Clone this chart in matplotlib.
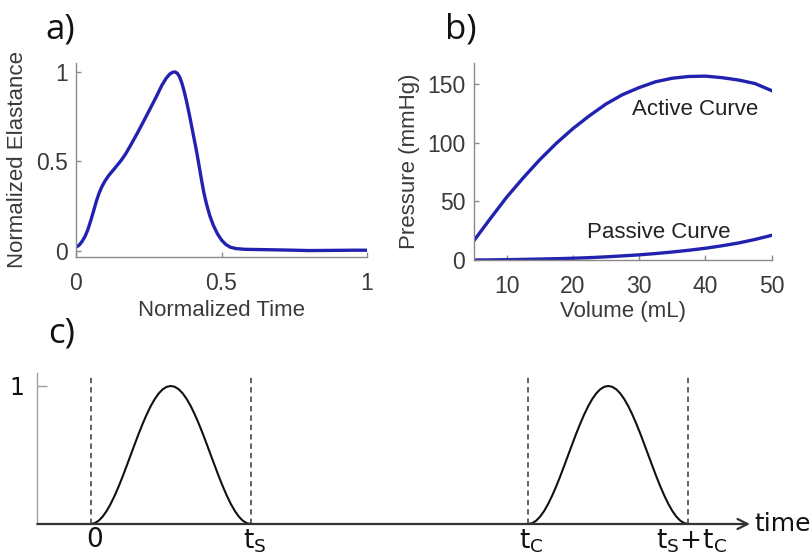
import matplotlib
matplotlib.use('Agg')
import matplotlib.pyplot as plt

# ---------------- data ----------------
# panel a: normalized elastance curve
time_a = [0.000, 0.010, 0.020, 0.031, 0.040, 0.050, 0.060, 0.070, 0.080, 0.090,
          0.100, 0.110, 0.120, 0.130, 0.140, 0.155, 0.170, 0.186, 0.210, 0.231,
          0.255, 0.277, 0.295, 0.310, 0.322, 0.332, 0.340, 0.348, 0.356, 0.364,
          0.372, 0.380, 0.389, 0.397, 0.406, 0.415, 0.424, 0.432, 0.440, 0.449,
          0.460, 0.472, 0.486, 0.500, 0.515, 0.530, 0.550, 0.580, 0.650, 0.720,
          0.800, 0.880, 0.950, 1.000]
elast_a = [0.020, 0.030, 0.050, 0.080, 0.115, 0.165, 0.220, 0.277, 0.325, 0.362,
           0.391, 0.415, 0.436, 0.455, 0.475, 0.505, 0.540, 0.585, 0.655, 0.720,
           0.795, 0.865, 0.925, 0.965, 0.988, 0.998, 1.000, 0.993, 0.972, 0.937,
           0.890, 0.835, 0.765, 0.700, 0.625, 0.550, 0.465, 0.390, 0.320, 0.258,
           0.195, 0.142, 0.095, 0.060, 0.035, 0.020, 0.012, 0.008, 0.006, 0.004,
           0.001, 0.002, 0.003, 0.003]

# panel b: pressure-volume curves
vol_active = [5, 7.5, 10, 12.5, 15, 17.5, 20, 22.5, 25, 27.5, 30, 32.5, 35,
              37.5, 40, 42.5, 45, 47.5, 50]
p_active = [16, 35, 53.5, 70, 85.5, 99.5, 112, 123, 133, 141, 147, 152, 155,
            156.5, 156.8, 155.5, 153.5, 150.5, 144.5]
vol_passive = [5, 7.5, 10, 12.5, 15, 17.5, 20, 22.5, 25, 27.5, 30, 32.5, 35,
               37.5, 40, 42.5, 45, 47.5, 50]
p_passive = [0, 0.1, 0.3, 0.5, 0.8, 1.1, 1.5, 2.0, 2.7, 3.5, 4.4, 5.5, 6.8,
             8.3, 10.0, 12.1, 14.5, 17.5, 21.0]

# panel c: activation pulse (phase within systole, normalized value)
pulse_phase = [0.000, 0.025, 0.050, 0.075, 0.100, 0.125, 0.150, 0.175, 0.200, 0.225,
               0.250, 0.275, 0.300, 0.325, 0.350, 0.375, 0.400, 0.425, 0.450, 0.475,
               0.500, 0.525, 0.550, 0.575, 0.600, 0.625, 0.650, 0.675, 0.700, 0.725,
               0.750, 0.775, 0.800, 0.825, 0.850, 0.875, 0.900, 0.925, 0.950, 0.975,
               1.000]
pulse_value = [0.000, 0.006, 0.024, 0.054, 0.095, 0.146, 0.206, 0.273, 0.345, 0.422,
               0.500, 0.578, 0.655, 0.727, 0.794, 0.854, 0.905, 0.946, 0.976, 0.994,
               1.000, 0.994, 0.976, 0.946, 0.905, 0.854, 0.794, 0.727, 0.655, 0.578,
               0.500, 0.422, 0.345, 0.273, 0.206, 0.146, 0.095, 0.054, 0.024, 0.006,
               0.000]
t_s = 0.366
t_c = 1.0
c_event_labels = ['0', r'$\mathregular{t_S}$', r'$\mathregular{t_C}$', r'$\mathregular{t_S\!+\!t_C}$']

# ---------------- style ----------------
W, H = 810, 557
BLUE = '#2222b0'
AXC = '#8a8a8a'
TXT = '#3a3a3a'
SANS = ['Liberation Sans', 'DejaVu Sans']

fig = plt.figure(figsize=(8.1, 5.57), dpi=100)


def box(l, r, t, b):
    return [l / W, 1 - b / H, (r - l) / W, (b - t) / H]


def matlab_style(ax):
    for s in ('top', 'right'):
        ax.spines[s].set_visible(False)
    for s in ('left', 'bottom'):
        ax.spines[s].set_color(AXC)
        ax.spines[s].set_linewidth(1.0)
    ax.tick_params(direction='in', length=3.5, width=1.0, color=AXC,
                   labelsize=16.5, labelcolor=TXT)
    ax.tick_params(axis='x', pad=11)
    ax.tick_params(axis='y', pad=6)
    for lab in ax.get_xticklabels() + ax.get_yticklabels():
        lab.set_family(SANS)


# ---- panel a ----
axa = fig.add_axes(box(76, 367, 63, 257))
axa.plot(time_a, elast_a, color=BLUE, lw=2.4, solid_joinstyle='round')
axa.set_xlim(0, 1)
axa.set_ylim(-0.035, 1.05)
axa.set_xticks([0, 0.5, 1])
axa.set_xticklabels(['0', '0.5', '1'])
axa.set_yticks([0, 0.5, 1])
axa.set_yticklabels(['0', '0.5', '1'])
matlab_style(axa)
axa.set_xlabel('Normalized Time', fontsize=16, color=TXT, family=SANS, va='center')
axa.xaxis.set_label_coords(0.5, -(310 - 257) / 194)
axa.set_ylabel('Normalized Elastance', fontsize=16, color=TXT, family=SANS, va='center')
axa.yaxis.set_label_coords((18 - 76) / 291, 0.5)

# ---- panel b ----
axb = fig.add_axes(box(473.5, 771.5, 63, 260))
axb.plot(vol_active, p_active, color=BLUE, lw=2.4, solid_joinstyle='round')
axb.plot(vol_passive, p_passive, color=BLUE, lw=2.4, solid_joinstyle='round')
axb.set_xlim(5, 50)
axb.set_ylim(0, 168)
axb.set_xticks([10, 20, 30, 40, 50])
axb.set_yticks([0, 50, 100, 150])
matlab_style(axb)
axb.set_xlabel('Volume (mL)', fontsize=16, color=TXT, family=SANS, va='center')
axb.xaxis.set_label_coords(0.5, -(311 - 260) / 197)
axb.set_ylabel('Pressure (mmHg)', fontsize=16, color=TXT, family=SANS, va='center')
axb.yaxis.set_label_coords((410 - 473.5) / 298, 0.5)
axb.text(38.4, 128.6, 'Active Curve', fontsize=16, color='#222222', family=SANS,
         ha='center', va='center')
axb.text(32.9, 23.5, 'Passive Curve', fontsize=16, color='#222222', family=SANS,
         ha='center', va='center')

# ---- panel c ----
axc = fig.add_axes(box(37.3, 750, 373, 524))
x0 = -0.122
x1 = 1.507
axc.set_xlim(x0, x1)
axc.set_ylim(0, 1.094)
for s in ('top', 'right', 'bottom'):
    axc.spines[s].set_visible(False)
axc.spines['left'].set_color('#a0a0a0')
axc.spines['left'].set_linewidth(1.0)
axc.set_xticks([])
axc.set_yticks([1])
axc.set_yticklabels(['1'])
axc.tick_params(axis='y', direction='in', length=7, width=1.0, color='#a0a0a0',
                labelsize=17, labelcolor='#111111', pad=9)

starts = [0.0, t_c]
for st in starts:
    axc.plot([st + p * t_s for p in pulse_phase], pulse_value, color='#111111', lw=1.5)

events = [0.0, t_s, t_c, t_s + t_c]
for ev in events:
    axc.plot([ev, ev], [0, 1.065], color='#555555', lw=1.3, linestyle=(0, (3, 2.2)))

axc.annotate('', xy=(x1, 0), xytext=(x0, 0),
             arrowprops=dict(arrowstyle='->', color='#333333', lw=1.6,
                             shrinkA=0, shrinkB=0, mutation_scale=18),
             annotation_clip=False)
for ev, lab in zip(events, c_event_labels):
    axc.text(ev + 0.008, -0.025, lab, fontsize=19, color='#111111',
             family=['DejaVu Sans'], ha='center', va='top', clip_on=False)
axc.text(1.518, 0.0, 'time', fontsize=18, color='#111111', family=['DejaVu Sans'],
         ha='left', va='center', clip_on=False)

# ---- panel letters ----
for txt, px, py in [('a)', 45, 30), ('b)', 445, 30), ('c)', 48, 334)]:
    fig.text(px / W, 1 - py / H, txt, fontsize=25, color='#111111',
             family=['Open Sans', 'DejaVu Sans'], ha='left', va='center')

fig.savefig('out.png', dpi=100)
